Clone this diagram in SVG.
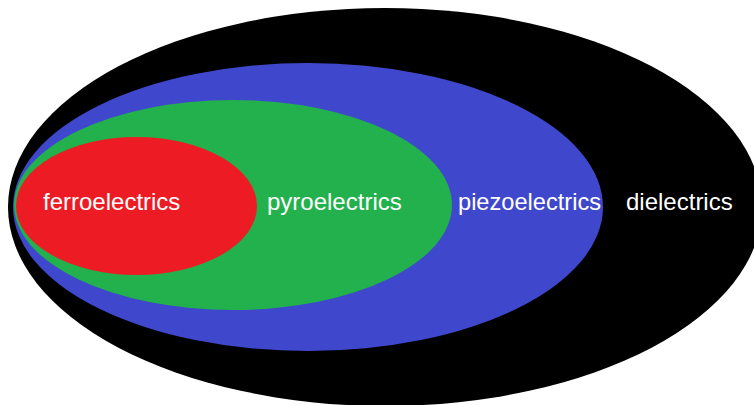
<svg xmlns="http://www.w3.org/2000/svg" width="754" height="405" viewBox="0 0 754 405">
<style>
text{font-family:"Liberation Sans",Arial,sans-serif;font-size:24px;fill:#fff}
</style>
<rect width="754" height="405" fill="#fff"/>
<g id="dielectrics"><ellipse cx="385" cy="207" rx="377" ry="199" fill="#000"/><text x="626" y="210">dielectrics</text></g>
<g id="piezoelectrics"><ellipse cx="308" cy="207" rx="295" ry="144" fill="#3f48cc"/><text x="458" y="210" textLength="143" lengthAdjust="spacingAndGlyphs">piezoelectrics</text></g>
<g id="pyroelectrics"><ellipse cx="233" cy="205" rx="219" ry="105" fill="#22b14c"/><text x="267" y="210">pyroelectrics</text></g>
<g id="ferroelectrics"><ellipse cx="136.5" cy="206" rx="120.5" ry="69" fill="#ed1c24"/><text x="43" y="210">ferroelectrics</text></g>
<g id="connectors"/>
</svg>
